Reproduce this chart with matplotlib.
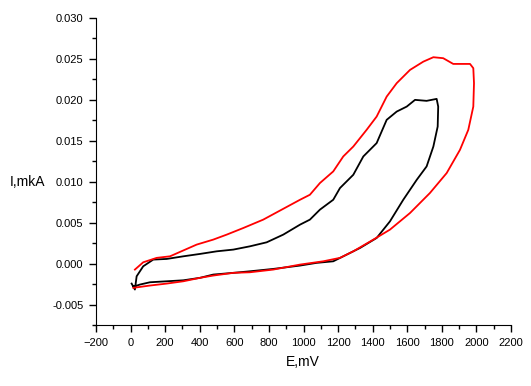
import numpy as np
import matplotlib
matplotlib.use("Agg")
import matplotlib.pyplot as plt
from matplotlib.ticker import MultipleLocator

# black loop (E in mV, I in mkA)
black_e = [6, 25, 35, 73, 131, 209, 305, 401, 498, 594, 690, 787, 883, 980, 1037,
           1095, 1172, 1211, 1288, 1346, 1423, 1481, 1539, 1597, 1645, 1712, 1770,
           1779, 1776, 1751, 1712, 1655, 1577, 1500, 1423, 1327, 1250, 1172, 1076,
           980, 825, 690, 594, 478, 401, 305, 209, 112, 54, 25, 16]
black_i = [-0.00244, -0.00317, -0.00155, -0.00033, 0.00049, 0.00057, 0.00089, 0.00118,
           0.00150, 0.00171, 0.00211, 0.00260, 0.00354, 0.00476, 0.00537, 0.00659,
           0.00780, 0.00923, 0.01085, 0.01309, 0.01472, 0.01756, 0.01857, 0.01918,
           0.02000, 0.01988, 0.02012,
           0.01918, 0.01674, 0.01430, 0.01187, 0.01024, 0.00780, 0.00516, 0.00313,
           0.00191, 0.00110, 0.00028, 0.00009, -0.00024, -0.00065, -0.00094,
           -0.00113, -0.00134, -0.00174, -0.00204, -0.00216, -0.00228, -0.00256,
           -0.00277, -0.00277]

# red loop
red_e = [25, 73, 151, 228, 286, 382, 478, 556, 652, 767, 980, 1037, 1095, 1172, 1230,
         1288, 1365, 1423, 1481, 1539, 1616, 1693, 1751, 1808, 1866, 1963, 1982, 1986,
         1982, 1953, 1905, 1828, 1731, 1616, 1500, 1404, 1288, 1211, 1114, 980, 825,
         690, 594, 478, 401, 305, 209, 112, 16]
red_i = [-0.00073, 0.00016, 0.00070, 0.00089, 0.00143, 0.00232, 0.00293, 0.00354,
         0.00435, 0.00537, 0.00780, 0.00841, 0.00984, 0.01126, 0.01309, 0.01430,
         0.01634, 0.01796, 0.02040, 0.02204, 0.02366, 0.02467, 0.02521, 0.02509,
         0.02439, 0.02439, 0.02387, 0.02204, 0.01918, 0.01634, 0.01390, 0.01106,
         0.00862, 0.00618, 0.00415, 0.00293, 0.00150, 0.00070, 0.00028, -0.00012,
         -0.00073, -0.00106, -0.00113, -0.00146, -0.00174, -0.00216, -0.00244,
         -0.00268, -0.00296]

plt.rcParams['font.family'] = ['Liberation Sans', 'DejaVu Sans']

fig = plt.figure(figsize=(5.31, 3.86), dpi=100)
ax = fig.add_axes([96/531, 61/386, 415/531, 307/386])

ax.plot(black_e, black_i, color='black', lw=1.3)
ax.plot(red_e, red_i, color='#ff0000', lw=1.3)

ax.set_xlim(-200, 2200)
ax.set_ylim(-0.0075, 0.030)
ax.xaxis.set_major_locator(MultipleLocator(200))
ax.xaxis.set_minor_locator(MultipleLocator(100))
ax.yaxis.set_major_locator(MultipleLocator(0.005))
ax.yaxis.set_minor_locator(MultipleLocator(0.0025))
ax.yaxis.set_major_formatter(matplotlib.ticker.FormatStrFormatter('%.3f'))

ax.spines['top'].set_visible(False)
ax.spines['right'].set_visible(False)
ax.tick_params(which='major', direction='out', length=5, width=1, labelsize=8, pad=4)
ax.tick_params(which='minor', direction='out', length=3, width=1)

fig.text(10/531, 1 - 182/386, 'I,mkA', ha='left', va='center', fontsize=10)
fig.text(303/531, 1 - 362/386, 'E,mV', ha='center', va='center', fontsize=10)

fig.savefig('out.png', dpi=100)
